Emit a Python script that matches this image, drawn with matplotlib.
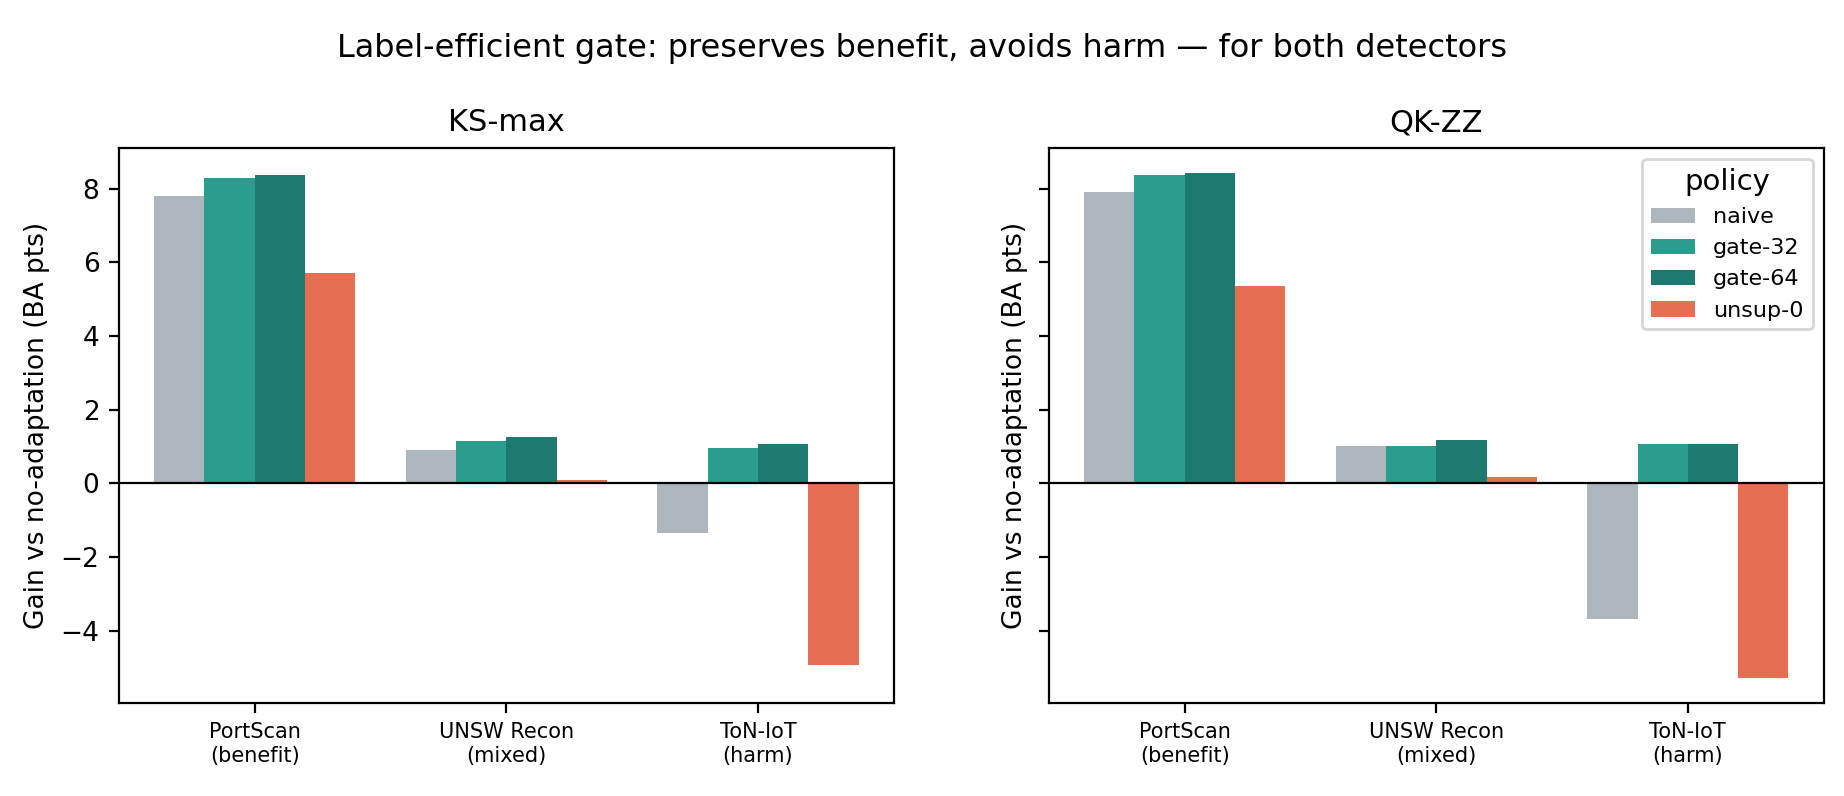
import numpy as np
import matplotlib
matplotlib.use("Agg")
import matplotlib.pyplot as plt

# --- data ---
datasets = ["PortScan\n(benefit)", "UNSW Recon\n(mixed)", "ToN-IoT\n(harm)"]
policies = ["naive", "gate-32", "gate-64", "unsup-0"]
colors = ["#adb5bd", "#2a9d8f", "#1e7a70", "#e76f51"]

# gain per dataset, one list per policy
ks_naive = [7.79, 0.92, -1.35]
ks_gate32 = [8.28, 1.14, 0.96]
ks_gate64 = [8.36, 1.25, 1.08]
ks_unsup = [5.70, 0.10, -4.94]

qk_naive = [7.90, 1.01, -3.69]
qk_gate32 = [8.38, 1.03, 1.06]
qk_gate64 = [8.42, 1.19, 1.06]
qk_unsup = [5.35, 0.17, -5.27]

panels = [
    ("KS-max", [ks_naive, ks_gate32, ks_gate64, ks_unsup]),
    ("QK-ZZ", [qk_naive, qk_gate32, qk_gate64, qk_unsup]),
]

fig, axes = plt.subplots(1, 2, figsize=(9.22, 3.98), dpi=200, sharey=True)
fig.subplots_adjust(left=0.0645, right=0.989, bottom=0.117, top=0.814, wspace=0.2)

x = np.arange(len(datasets))
w = 0.2
for ax, (name, series) in zip(axes, panels):
    for i, (pol, vals) in enumerate(zip(policies, series)):
        ax.bar(x - 0.3 + i * w, vals, width=w, color=colors[i], label=pol)
    ax.axhline(0, color="black", lw=0.8)
    ax.set_xticks(x)
    ax.set_xticklabels(datasets, fontsize=7.5)
    ax.set_title(name, fontsize=11)
    ax.set_ylabel("Gain vs no-adaptation (BA pts)", fontsize=9.5)
    ax.tick_params(axis="y", labelsize=9.5)

axes[1].legend(title="policy", loc="upper right", fontsize=8, title_fontsize=10.5)

fig.suptitle("Label-efficient gate: preserves benefit, avoids harm — for both detectors",
             fontsize=11.5, y=0.958)

plt.savefig("out.png", dpi=200)
